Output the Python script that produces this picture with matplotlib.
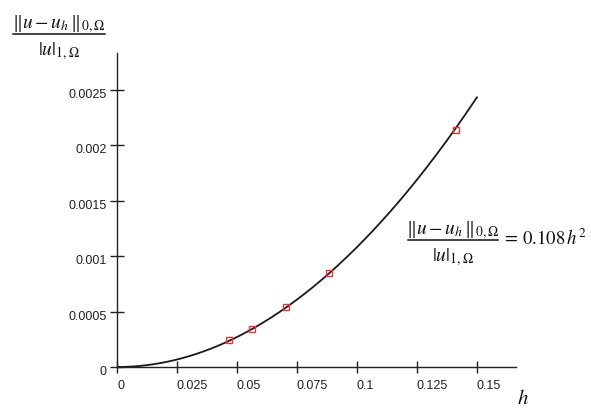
import matplotlib
matplotlib.use('Agg')
import matplotlib.pyplot as plt
import numpy as np
from matplotlib import transforms
from matplotlib.lines import Line2D

# data
h_points = [0.0467, 0.0563, 0.0704, 0.0883, 0.1413]
err_points = [0.000244, 0.000343, 0.000542, 0.000848, 0.00214]
fit_coef = 0.108
fit_h_max = 0.15
x_ticks = [0, 0.025, 0.05, 0.075, 0.1, 0.125, 0.15]
x_tick_labels = ['0', '0.025', '0.05', '0.075', '0.1', '0.125', '0.15']
y_ticks = [0, 0.0005, 0.001, 0.0015, 0.002, 0.0025]
y_tick_labels = ['0', '0.0005', '0.001', '0.0015', '0.002', '0.0025']

plt.rcParams['mathtext.fontset'] = 'stix'
plt.rcParams['font.family'] = ['Liberation Sans', 'DejaVu Sans']

W, H = 591, 408
fig = plt.figure(figsize=(W / 100, H / 100), dpi=100)
x0, x1 = 117, 516
y0, y1 = 367, 53
ax = fig.add_axes([x0 / W, (H - y0) / H, (x1 - x0) / W, (y0 - y1) / H])
ax.set_xlim(0, 0.1663)
ax.set_ylim(0, 0.00283)
for s in ['top', 'right']:
    ax.spines[s].set_visible(False)
for s in ['left', 'bottom']:
    ax.spines[s].set_linewidth(1.0)
    ax.spines[s].set_color('#222222')

hh = np.linspace(0, fit_h_max, 300)
ax.plot(hh, fit_coef * hh ** 2, color='#1a1a1a', lw=1.3, zorder=2)
ax.plot(h_points, err_points, linestyle='none', marker='s', ms=4.8,
        mfc='none', mec='#e8333a', mew=1.0, zorder=3)

ax.set_xticks(x_ticks)
ax.set_yticks(y_ticks)
ax.set_xticklabels([])
ax.set_yticklabels([])
ax.tick_params(axis='x', direction='inout', length=8, width=1.0, color='#222222')
ax.tick_params(axis='y', direction='inout', length=10, width=1.0, color='#222222')

off_x = transforms.ScaledTranslation(0, -13 / 100, fig.dpi_scale_trans)
tx = transforms.blended_transform_factory(ax.transData, ax.transAxes) + off_x
for v, lab in zip(x_ticks, x_tick_labels):
    ax.text(v, 0, lab, transform=tx, ha='left', va='top', fontsize=9, color='#222222')

off_y = transforms.ScaledTranslation(-10 / 100, -5 / 100, fig.dpi_scale_trans)
ty = transforms.blended_transform_factory(ax.transAxes, ax.transData) + off_y
for v, lab in zip(y_ticks, y_tick_labels):
    ax.text(0, v, lab, transform=ty, ha='right', va='center', fontsize=9, color='#222222')

num = r'$\Vert u - u_h\,\Vert_{0,\Omega}$'
den = r'$|u|_{1,\Omega}$'


def draw_frac(xa, xb, yline, fs=14):
    xc = (xa + xb) / 2
    fig.text(xc / W, 1 - (yline - 6) / H, num, ha='center', va='baseline',
             fontsize=fs, color='#111111')
    fig.text(xc / W, 1 - (yline + 21) / H, den, ha='center', va='baseline',
             fontsize=fs, color='#111111')
    fig.add_artist(Line2D([xa / W, xb / W], [1 - yline / H, 1 - yline / H],
                          transform=fig.transFigure, lw=1.1, color='#111111'))


draw_frac(13, 105, 34)
draw_frac(408, 498, 240)
fig.text(502 / W, 1 - 245 / H, r'$=\,0.108\,h^2$', ha='left', va='baseline',
         fontsize=13.5, color='#111111')
fig.text(523 / W, 1 - 398 / H, '$h$', ha='center', va='center', fontsize=15, color='#111111')

fig.savefig('out.png', dpi=100)
